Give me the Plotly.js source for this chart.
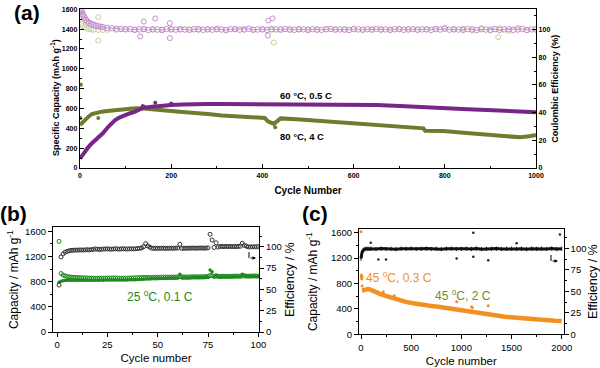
<!DOCTYPE html>
<html>
<head>
<meta charset="utf-8">
<script src="https://cdn.plot.ly/plotly-3.0.1.min.js"></script>
<style>html,body{margin:0;padding:0;background:#fff;}#chart{width:600px;height:368px;}</style>
</head>
<body>
<div id="chart"></div>
<script>
// ---------- Panel (a) ----------
var capA60Cycles = [0,5,10,18,25,32,40,50,62,70,77,85,92,99,110,121,130,136,138,145,158,170,185,200,225,246,280,311,350,400,450,483,530,600,650,702,750,797,850,892,950,994,1000];
var capA60 = [95,130,165,208,245,275,300,350,416,455,484,505,520,534,552,568,585,602,622,610,618,625,630,635,640,645,645,645,644,640,638,636,640,642,635,625,612,602,592,585,570,565,562];
var capA60OutCycles = [165,200];
var capA60Out = [658,650];

var capA80Cycles = [0,5,11,18,26,35,48,60,77,100,121,140,158,180,200,225,246,280,311,350,395,405,412,418,425,432,440,483,540,600,658,702,753,757,797,841,892,914,965,985,1000];
var capA80 = [433,460,484,515,544,558,568,575,585,592,602,600,590,580,575,565,560,545,530,520,511,505,470,455,445,470,500,490,470,450,433,416,400,376,373,355,338,325,309,320,333];
var capA80OutCycles = [1,2,40,428];
var capA80Out = [504,840,505,410];

var effA60Cycles = [0,2,4,6,8,10,13,16,20,25,30,35,40,45,50,60,70,80,90,100,
 110,120,130,140,150,160,170,180,190,200,
 210,220,230,240,250,260,270,280,290,300,
 310,320,330,340,350,360,370,380,390,400,
 410,420,430,440,450,460,470,480,490,500,
 510,520,530,540,550,560,570,580,590,600,
 610,620,630,640,650,660,670,680,690,700,
 710,720,730,740,750,760,770,780,790,800,
 810,820,830,840,850,860,870,880,890,900,
 910,920,930,940,950,960,970,980,990,1000];
var effA60 = [115,114,113,111,110,108.5,107,105.8,104.8,104,103.3,102.8,102.4,102,101.7,101.2,100.9,100.6,100.4,100.2,
 100.3,99.8,100.1,100.4,99.7,100.2,100.0,99.6,100.3,100.1,
 99.9,100.4,100.0,99.7,100.2,100.3,99.8,100.1,99.9,100.4,
 100.0,99.6,100.2,100.3,99.9,100.1,100.5,99.8,100.0,100.2,
 99.7,100.3,100.1,99.9,100.4,100.0,99.8,100.2,100.1,99.7,
 100.3,100.0,99.8,100.2,100.4,99.9,100.1,100.0,99.7,100.3,
 100.1,99.8,100.2,100.0,100.4,99.9,100.1,99.7,100.2,100.3,
 99.8,100.0,100.3,99.9,100.1,100.2,99.7,100.4,100.0,100.6,
 99.9,100.2,100.0,99.8,100.3,100.1,99.6,100.2,100.0,99.9,
 100.3,99.7,100.1,100.2,99.8,100.0,100.4,99.7,100.1,100.0];
var effA60OutCycles = [132,140,165,197,197,412,413,422];
var effA60Out = [95,105.8,108,104.6,93.8,95.7,106.5,108];

var effA80Cycles = [0,3,6,10,15,20,25,30,40,50,60,
 80,100,120,140,160,180,200,220,240,260,280,300,320,340,360,380,400,420,440,460,480,500,
 520,540,560,580,600,620,640,660,680,700,720,740,760,780,800,820,840,860,880,900,920,940,960,980,1000];
var effA80 = [107,104,102.5,101.5,100.8,100.3,100,99.8,99.7,99.6,99.8,
 99.7,100.1,99.9,100.2,99.8,100.0,100.3,99.9,100.1,99.7,100.2,100.0,99.8,100.3,99.9,100.1,100.0,99.8,100.2,99.9,100.1,100.0,
 99.7,100.2,100.1,99.9,100.3,100.0,99.8,100.2,99.9,100.1,100.4,99.8,100.0,100.2,101.2,99.9,100.6,99.5,101.0,99.2,100.8,99.0,101.3,99.4,100.7];
var effA80OutCycles = [40,40,425,917];
var effA80Out = [109,92,90.6,94.5];

// ---------- Panel (b) ----------
var cycB = [1,2,3,4,5,6,7,8,9,10,11,12,13,14,15,16,17,18,19,20,21,22,23,24,25,26,27,28,29,30,31,32,33,34,35,36,37,38,39,40,41,42,43,44,45,46,47,48,49,50,51,52,53,54,55,56,57,58,59,60,61,62,63,64,65,66,67,68,69,70,71,72,73,74,75,76,77,78,79,80,81,82,83,84,85,86,87,88,89,90,91,92,93,94,95,96,97,98,99,100];
var effB = [55,88,91.5,93.5,94.5,95.2,95.6,95.8,96,96,96.1,96.2,96,96.3,96.4,96.2,96.5,96.8,97.4,97,
 96.8,97,97.2,97.3,97.4,97.2,97,97.3,97.5,97.3,97.1,97.4,97.6,97.2,97.3,97.4,97.5,97.3,97.6,97.8,
 98,98.6,100,103.5,101,99.4,98.3,98,98.2,98.1,98,98.3,98.1,98.2,98,98.3,98.2,98.1,98.4,98.3,
 102.8,98,98.2,98.1,98.3,98.2,98.4,98.3,98.2,98.4,98.3,98.5,98.2,98.4,98.6,114.5,107.8,99,104.5,99.5,
 100.2,100.3,100,100.4,100.1,100.3,100,100.2,100.1,100.3,100.5,104,101.5,100.6,99.8,99.6,100,99.7,99.9,100];
var chargeB = [1440,930,905,892,882,876,872,869,867,866,864,862,861,860,858,857,856,855,854,854,
 855,856,855,857,858,857,858,859,858,857,856,855,854,855,856,857,858,860,861,862,
 864,866,868,866,865,866,867,868,869,870,871,872,872,873,872,871,872,873,874,875,
 880,876,875,874,875,876,877,878,877,876,877,878,879,880,882,900,895,885,888,886,
 885,886,887,886,885,886,887,888,889,888,889,892,890,889,888,889,890,891,890,889];
var dischargeB = [790,808,815,819,821,822,823,823,822,823,822,821,822,823,822,821,822,823,824,823,
 824,825,824,825,826,825,826,827,826,825,826,827,826,827,828,829,830,831,832,833,
 835,837,840,842,843,844,845,846,847,848,849,850,851,852,853,854,855,855,856,857,
 917,858,858,859,860,860,861,862,862,863,863,864,864,865,866,986,959,875,906,880,
 872,873,874,874,875,876,876,877,877,878,879,917,900,882,881,882,882,883,883,884];

// ---------- Panel (c) ----------
var capCCycles = [10,23,40,73,100,139,200,272,350,438,520,604,700,770,850,936,969,1030,1102,1180,1268,1350,1434,1520,1600,1680,1766,1850,1932,2000];
var capC = [690,697,705,713,700,671,630,593,552,514,488,462,445,435,415,390,383,368,346,330,315,295,277,265,252,240,225,219,214,209];
var capCOutCycles = [0,3,5,8,10,12,222,332,953,1102,1110,1268];
var capCOut = [1616,935,900,870,910,760,671,608,514,435,420,451];

var effCCycles = [0,5,10,20,30,40,60,80,100,150,200,250,300,350,400,450,500,550,600,650,700,750,800,850,900,950,1000,1050,1100,1150,1200,1250,1300,1350,1400,1450,1500,1550,1600,1650,1700,1750,1800,1850,1900,1950,2000];
var effC = [88,92,95,97.5,98.5,99.2,99.5,99.3,99.5,99.1,99.6,99.2,99.4,99.0,99.5,99.3,99.7,99.1,99.4,99.6,99.2,99.5,99.0,99.4,99.6,99.1,99.3,99.5,99.2,99.6,99.0,99.4,99.3,99.6,99.1,99.4,99.5,99.2,99.4,99.0,99.5,99.3,99.6,99.2,99.7,99.1,99.4];
var effCOutCycles = [97,173,249,953,1119,1119,1268,1551,1982];
var effCOut = [106.5,87,87,88,118,90,86,105.8,116];

// ---------- colours / fonts ----------
var FONT = 'Liberation Sans, Arial, sans-serif';
var PURPLE = '#772687', OLIVE = '#6f7b2e', PINK = '#c68ccf', LOLIVE = '#c6d098';
var GREEN = '#1d8a1d', ORANGE = '#f39024';

function P(x){return x/600;}
function Q(y){return 1 - y/368;}

var traces = [
  {x: capA80Cycles, y: capA80, xaxis:'x', yaxis:'y', mode:'lines', line:{color:OLIVE, width:4}},
  {x: capA80OutCycles, y: capA80Out, xaxis:'x', yaxis:'y', mode:'markers', marker:{color:OLIVE, size:4}},
  {x: capA60Cycles, y: capA60, xaxis:'x', yaxis:'y', mode:'lines', line:{color:PURPLE, width:4}},
  {x: capA60OutCycles, y: capA60Out, xaxis:'x', yaxis:'y', mode:'markers', marker:{color:PURPLE, size:4}},
  {x: effA80Cycles, y: effA80, xaxis:'x', yaxis:'y2', mode:'markers', marker:{symbol:'circle-open', color:LOLIVE, size:5, line:{width:1}}},
  {x: effA60Cycles, y: effA60, xaxis:'x', yaxis:'y2', mode:'lines+markers', line:{color:PINK, width:1}, marker:{symbol:'circle-open', color:PINK, size:5.5, line:{width:1}}},
  {x: effA60OutCycles, y: effA60Out, xaxis:'x', yaxis:'y2', mode:'markers', marker:{symbol:'circle-open', color:PINK, size:5, line:{width:1}}},
  {x: effA80OutCycles, y: effA80Out, xaxis:'x', yaxis:'y2', mode:'markers', marker:{symbol:'circle-open', color:LOLIVE, size:5, line:{width:1}}},
  {x: cycB, y: chargeB, xaxis:'x2', yaxis:'y3', mode:'markers', marker:{symbol:'circle-open', color:GREEN, size:4, line:{width:1}}},
  {x: cycB, y: dischargeB, xaxis:'x2', yaxis:'y3', mode:'markers', marker:{symbol:'circle', color:GREEN, size:3.5}},
  {x: cycB, y: effB, xaxis:'x2', yaxis:'y4', mode:'markers', marker:{symbol:'circle-open', color:'#333', size:4, line:{width:1}}},
  {x: capCCycles, y: capC, xaxis:'x3', yaxis:'y5', mode:'lines', line:{color:ORANGE, width:4.5}},
  {x: capCOutCycles, y: capCOut, xaxis:'x3', yaxis:'y5', mode:'markers', marker:{color:ORANGE, size:3}},
  {x: effCCycles, y: effC, xaxis:'x3', yaxis:'y6', mode:'lines+markers', line:{color:'#111', width:3}, marker:{symbol:'line-ns-open', color:'#111', size:3, line:{width:1}}},
  {x: effCOutCycles, y: effCOut, xaxis:'x3', yaxis:'y6', mode:'markers', marker:{color:'#222', size:2.5}}
];

function axA(extra){
  var base = {showline:true, linecolor:'#000', linewidth:1.2, ticks:'inside', ticklen:4, tickwidth:1, tickcolor:'#000',
    showgrid:false, zeroline:false, tickfont:{family:FONT, size:7, weight:'bold', color:'#000'}};
  for (var k in extra) base[k] = extra[k];
  return base;
}
function axB(extra){
  var base = {showline:true, linecolor:'#000', linewidth:1, ticks:'outside', ticklen:4, tickwidth:1, tickcolor:'#000',
    showgrid:false, zeroline:false, tickfont:{family:FONT, size:9.5, color:'#000'}};
  for (var k in extra) base[k] = extra[k];
  return base;
}

var layout = {
  width:600, height:368, margin:{l:0,r:0,t:0,b:0}, paper_bgcolor:'#fff', plot_bgcolor:'#fff', showlegend:false,
  font:{family:FONT, color:'#000'},
  xaxis: axA({domain:[P(80),P(536)], anchor:'y', range:[0,1000], dtick:200, mirror:true,
    minor:{dtick:100, ticks:'inside', ticklen:2, tickcolor:'#000'},
    title:{text:'Cycle Number', font:{family:FONT, size:10, weight:'bold'}, standoff:9}}),
  yaxis: axA({domain:[Q(168),Q(9.3)], anchor:'x', range:[0,1600], dtick:200,
    minor:{dtick:100, ticks:'inside', ticklen:2, tickcolor:'#000'}}),
  yaxis2: axA({overlaying:'y', side:'right', anchor:'x', range:[0,114.6], dtick:20,
    minor:{dtick:10, ticks:'inside', ticklen:2, tickcolor:'#000'},
    title:{text:'Coulombic Efficiency (%)', font:{family:FONT, size:9, weight:'bold'}, standoff:2}}),

  xaxis2: axB({domain:[P(53),P(259)], anchor:'y3', range:[-2,100.3], tick0:0, dtick:25, mirror:true,
    minor:{dtick:12.5, ticks:'outside', ticklen:2, tickcolor:'#000'},
    title:{text:'Cycle number', font:{family:FONT, size:11.5}, standoff:4}}),
  yaxis3: axB({domain:[Q(332),Q(227.3)], anchor:'x2', range:[0,1664], dtick:400,
    minor:{dtick:200, ticks:'outside', ticklen:2, tickcolor:'#000'},
    title:{text:'Capacity / mAh g<sup>-1</sup>', font:{family:FONT, size:12}, standoff:3}}),
  yaxis4: axB({overlaying:'y3', side:'right', anchor:'x2', range:[0,122.7], dtick:25,
    minor:{dtick:12.5, ticks:'outside', ticklen:2, tickcolor:'#000'},
    title:{text:'Efficiency / %', font:{family:FONT, size:12.5}, standoff:4}}),

  xaxis3: axB({domain:[P(359),P(563.7)], anchor:'y5', range:[-20,2020], tick0:0, dtick:500, mirror:true,
    minor:{dtick:250, ticks:'outside', ticklen:2, tickcolor:'#000'},
    title:{text:'Cycle number', font:{family:FONT, size:11.5}, standoff:5}}),
  yaxis5: axB({domain:[Q(334.3),Q(229)], anchor:'x3', range:[0,1658], dtick:400,
    minor:{dtick:200, ticks:'outside', ticklen:2, tickcolor:'#000'},
    title:{text:'Capacity / mAh g<sup>-1</sup>', font:{family:FONT, size:12}, standoff:10}}),
  yaxis6: axB({overlaying:'y5', side:'right', anchor:'x3', range:[0,122.4], dtick:25,
    minor:{dtick:12.5, ticks:'outside', ticklen:2, tickcolor:'#000'},
    title:{text:'Efficiency / %', font:{family:FONT, size:12.5}, standoff:5}}),

  shapes: [
    {type:'line', xref:'paper', yref:'paper', x0:P(249), x1:P(249), y0:Q(252), y1:Q(258), line:{color:'#000', width:1}},
    {type:'line', xref:'paper', yref:'paper', x0:P(551), x1:P(551), y0:Q(255), y1:Q(261), line:{color:'#000', width:1}}
  ],
  annotations: [
    {text:'Specific Capacity (mAh g<sup>-1</sup>)', xref:'paper', yref:'paper', x:P(55), y:Q(97), xanchor:'center', yanchor:'middle', textangle:-90, showarrow:false, font:{family:FONT, size:9, weight:'bold'}},
    {text:'(a)', xref:'paper', yref:'paper', x:P(27), y:Q(12), xanchor:'center', yanchor:'middle', showarrow:false, font:{family:FONT, size:21, weight:'bold'}},
    {text:'(b)', xref:'paper', yref:'paper', x:P(13), y:Q(213), xanchor:'center', yanchor:'middle', showarrow:false, font:{family:FONT, size:21, weight:'bold'}},
    {text:'(c)', xref:'paper', yref:'paper', x:P(315), y:Q(213), xanchor:'center', yanchor:'middle', showarrow:false, font:{family:FONT, size:21, weight:'bold'}},
    {text:'60 °C, 0.5 C', xref:'paper', yref:'paper', x:P(306), y:Q(95), xanchor:'center', yanchor:'middle', showarrow:false, font:{family:FONT, size:9.5, weight:'bold'}},
    {text:'80 °C, 4 C', xref:'paper', yref:'paper', x:P(302), y:Q(136), xanchor:'center', yanchor:'middle', showarrow:false, font:{family:FONT, size:9.5, weight:'bold'}},
    {text:'25 <sup>o</sup>C, 0.1 C', xref:'paper', yref:'paper', x:P(160), y:Q(296), xanchor:'center', yanchor:'middle', showarrow:false, font:{family:FONT, size:12, color:GREEN}},
    {text:'45 <sup>o</sup>C, 0.3 C', xref:'paper', yref:'paper', x:P(399), y:Q(277), xanchor:'center', yanchor:'middle', showarrow:false, font:{family:FONT, size:12, color:ORANGE}},
    {text:'45 <sup>o</sup>C, 2 C', xref:'paper', yref:'paper', x:P(463), y:Q(295), xanchor:'center', yanchor:'middle', showarrow:false, font:{family:FONT, size:12, color:'#7a872a'}},
    {text:'', xref:'paper', yref:'paper', x:P(256), y:Q(258), ax:-7, ay:0, showarrow:true, arrowhead:2, arrowsize:0.7, arrowwidth:1, arrowcolor:'#000'},
    {text:'', xref:'paper', yref:'paper', x:P(558), y:Q(261), ax:-7, ay:0, showarrow:true, arrowhead:2, arrowsize:0.7, arrowwidth:1, arrowcolor:'#000'}
  ]
};

Plotly.newPlot('chart', traces, layout, {staticPlot:true, displayModeBar:false});
</script>
</body>
</html>
